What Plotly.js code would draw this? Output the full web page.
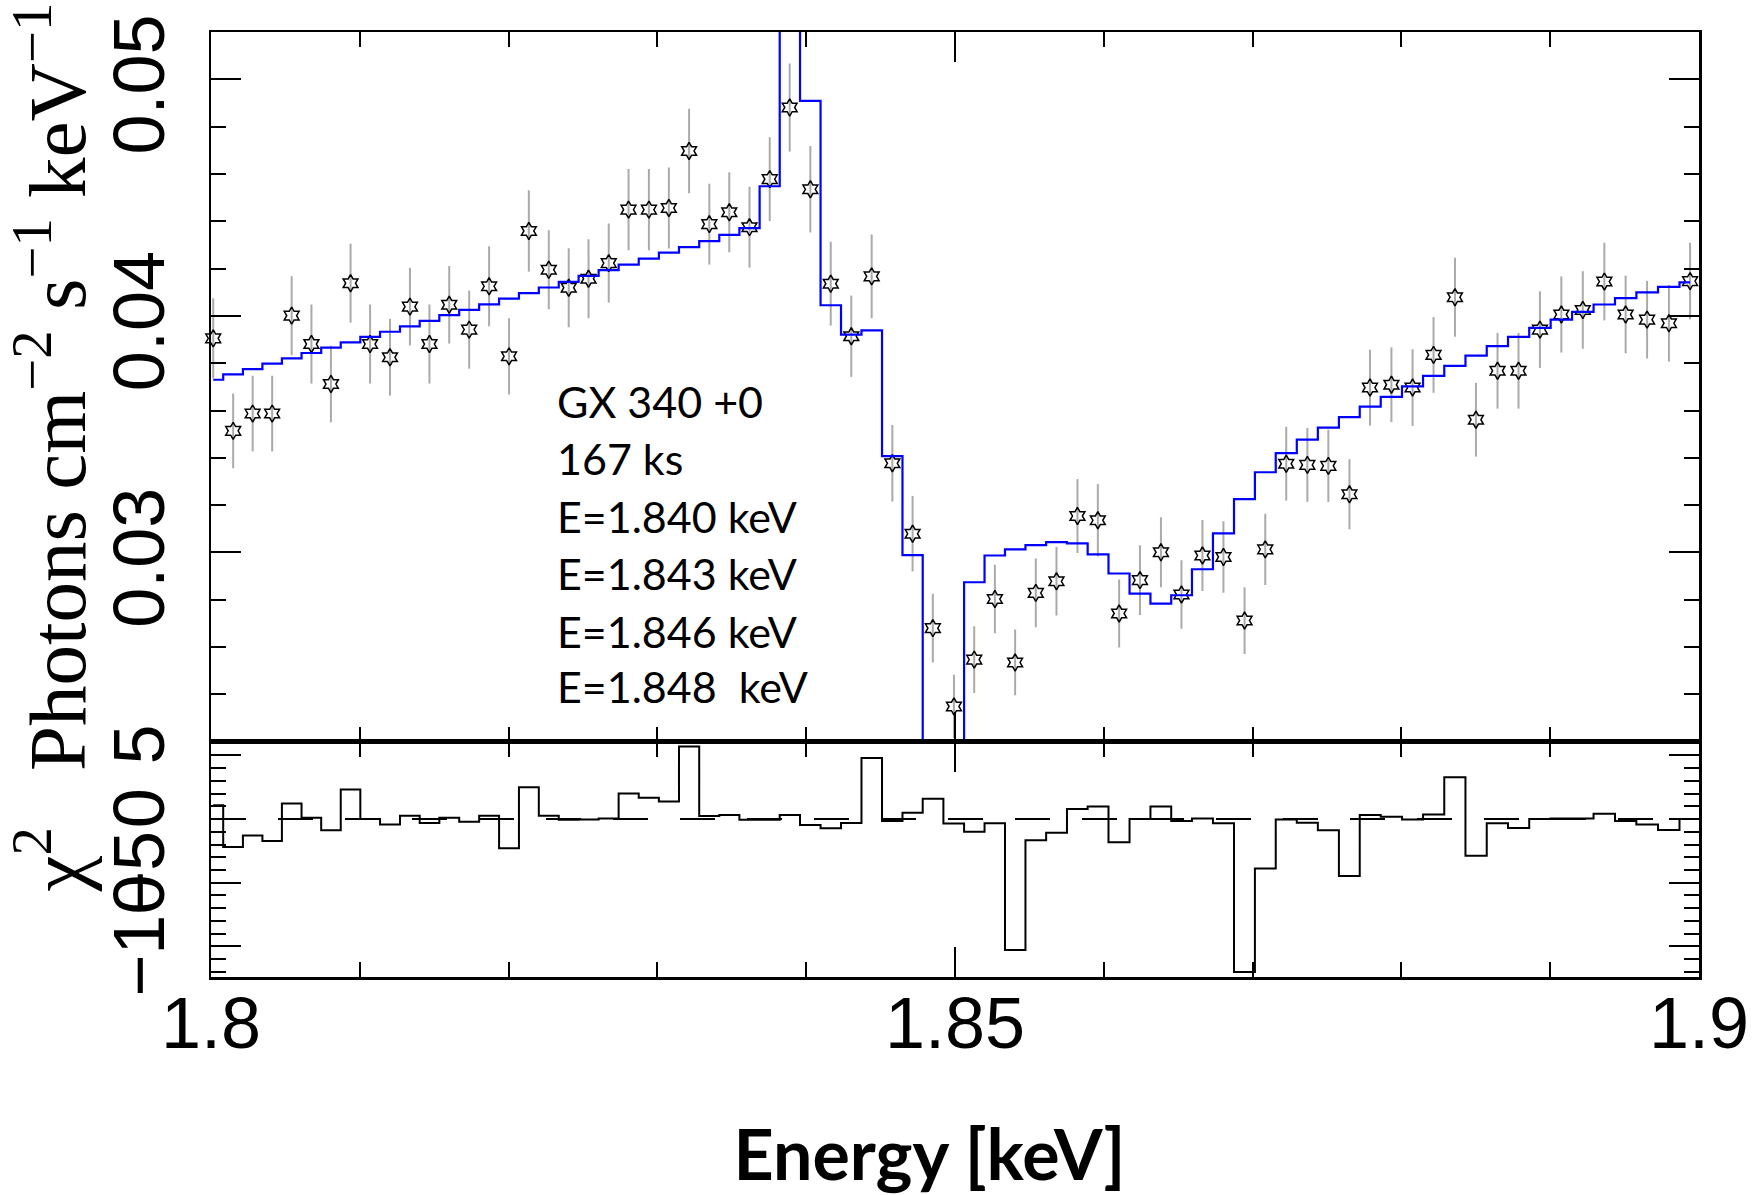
<!DOCTYPE html>
<html>
<head>
<meta charset="utf-8">
<script src="https://cdn.plot.ly/plotly-3.0.1.min.js"></script>
<style>
  html, body { margin: 0; padding: 0; background: #ffffff; }
  #chart { width: 1752px; height: 1195px; }
</style>
</head>
<body>
<div id="chart"></div>
<script>
// Bin centres (keV)
const energy = [1.80015, 1.80149, 1.80280, 1.80411, 1.80542, 1.80675, 1.80806, 1.80938, 1.81069, 1.81203,
  1.81337, 1.81468, 1.81601, 1.81735, 1.81869, 1.82003, 1.82136, 1.82270, 1.82404, 1.82537,
  1.82673, 1.82806, 1.82943, 1.83077, 1.83213, 1.83349, 1.83483, 1.83619, 1.83755, 1.83889,
  1.84028, 1.84165, 1.84303, 1.84440, 1.84579, 1.84715, 1.84851, 1.84993, 1.85129, 1.85268,
  1.85404, 1.85543, 1.85682, 1.85823, 1.85960, 1.86103, 1.86243, 1.86384, 1.86522, 1.86663,
  1.86804, 1.86946, 1.87085, 1.87226, 1.87368, 1.87509, 1.87651, 1.87789, 1.87933, 1.88075,
  1.88216, 1.88360, 1.88501, 1.88646, 1.88787, 1.88931, 1.89075, 1.89219, 1.89364, 1.89507,
  1.89651, 1.89798, 1.89940];

// Observed flux (Photons cm^-2 s^-1 keV^-1)
const flux = [0.03905, 0.03514, 0.03587, 0.03587, 0.04001, 0.03881, 0.03712, 0.04138, 0.03881, 0.03825,
  0.04039, 0.03881, 0.04047, 0.03942, 0.04125, 0.03829, 0.04359, 0.04195, 0.04119, 0.04157,
  0.04223, 0.04449, 0.04449, 0.04456, 0.04697, 0.04388, 0.04438, 0.04375, 0.04578, 0.04881,
  0.04535, 0.04136, 0.03914, 0.04167, 0.03377, 0.03079, 0.02680, 0.02349, 0.02547, 0.02803,
  0.02535, 0.02829, 0.02878, 0.03154, 0.03136, 0.02742, 0.02883, 0.03001, 0.02822, 0.02987,
  0.02981, 0.02712, 0.03013, 0.03375, 0.03370, 0.03366, 0.03246, 0.03697, 0.03709, 0.03697,
  0.03835, 0.04079, 0.03561, 0.03768, 0.03768, 0.03942, 0.04006, 0.04025, 0.04145, 0.04006,
  0.03984, 0.03969, 0.04147];

// 1-sigma errors on flux
const fluxErr = [0.00169, 0.00158, 0.00160, 0.00160, 0.00167, 0.00167, 0.00162, 0.00167, 0.00167, 0.00162,
  0.00164, 0.00167, 0.00164, 0.00165, 0.00169, 0.00161, 0.00172, 0.00167, 0.00167, 0.00167,
  0.00167, 0.00172, 0.00172, 0.00171, 0.00179, 0.00171, 0.00169, 0.00171, 0.00177, 0.00186,
  0.00183, 0.00177, 0.00172, 0.00177, 0.00162, 0.00160, 0.00145, 0.00134, 0.00141, 0.00145,
  0.00139, 0.00145, 0.00145, 0.00156, 0.00153, 0.00144, 0.00147, 0.00148, 0.00145, 0.00150,
  0.00151, 0.00141, 0.00151, 0.00156, 0.00156, 0.00153, 0.00148, 0.00160, 0.00158, 0.00162,
  0.00160, 0.00167, 0.00156, 0.00160, 0.00160, 0.00162, 0.00161, 0.00164, 0.00164, 0.00164,
  0.00164, 0.00162, 0.00162];

// Folded model (blue histogram)
const model = [0.03730, 0.03753, 0.03775, 0.03798, 0.03820, 0.03843, 0.03866, 0.03888, 0.03911, 0.03933,
  0.03956, 0.03979, 0.04003, 0.04025, 0.04049, 0.04073, 0.04096, 0.04120, 0.04144, 0.04169,
  0.04193, 0.04217, 0.04242, 0.04267, 0.04291, 0.04316, 0.04342, 0.04371, 0.04548, 0.05800,
  0.04909, 0.04045, 0.03921, 0.03939, 0.03407, 0.02989, 0.01900, 0.01900, 0.02874, 0.02987,
  0.03013, 0.03031, 0.03044, 0.03038, 0.02992, 0.02911, 0.02826, 0.02784, 0.02819, 0.02929,
  0.03081, 0.03225, 0.03339, 0.03420, 0.03477, 0.03528, 0.03572, 0.03616, 0.03658, 0.03702,
  0.03746, 0.03789, 0.03832, 0.03872, 0.03911, 0.03949, 0.03984, 0.04017, 0.04048, 0.04075,
  0.04099, 0.04123, 0.04142];

// Signed chi^2 residuals
const chi2 = [1.09, -2.19, -1.30, -1.72, 1.22, 0.10, -0.89, 2.32, 0.00, -0.42,
  0.26, -0.31, 0.10, -0.21, 0.26, -2.29, 2.50, 0.26, -0.05, -0.03,
  0.05, 2.00, 1.67, 1.38, 5.70, 0.23, 0.31, -0.05, -0.05, 0.31,
  -0.47, -0.73, -0.31, 4.79, -0.16, 0.49, 1.59, -0.36, -0.99, -0.34,
  -10.29, -1.67, -1.07, 0.78, 0.99, -1.82, 0.00, 0.99, -0.16, 0.04,
  -0.34, -12.00, -3.88, -0.03, -0.29, -0.89, -4.48, 0.31, 0.18, -0.03,
  0.36, 3.28, -2.89, -0.34, -0.70, 0.00, 0.05, 0.05, 0.42, -0.16,
  -0.42, -0.86, 0.00];

const infoLines = ["GX 340 +0", "167 ks", "E=1.840 keV", "E=1.843 keV", "E=1.846 keV", "E=1.848&nbsp; keV"];
const xTitle = "<b>Energy [keV]&nbsp;&nbsp;&nbsp;</b>";
const yTitleTop = "Photons cm<sup>\u22122</sup> s<sup>\u22121</sup> keV<sup>\u22121</sup>";
const yTitleBottom = "\u03c7<sup>2</sup>";

const tickFont = { family: "Liberation Sans, Arial, sans-serif", size: 72, color: "#000" };
const serifFont = { family: "Liberation Serif, Times New Roman, serif", size: 81, color: "#000" };

const traces = [
  {
    x: energy, y: flux, xaxis: "x", yaxis: "y",
    type: "scatter", mode: "markers", cliponaxis: false,
    marker: { symbol: "hexagram-open", size: 13, color: "#000", line: { width: 1.5, color: "#000" } },
    error_y: { type: "data", array: fluxErr, visible: true, color: "#aaaaaa", thickness: 2, width: 0 },
    showlegend: false
  },
  {
    x: energy, y: model, xaxis: "x", yaxis: "y",
    type: "scatter", mode: "lines",
    line: { shape: "hvh", color: "#0000ff", width: 2.2 },
    showlegend: false
  },
  {
    x: energy, y: chi2, xaxis: "x2", yaxis: "y2",
    type: "scatter", mode: "lines",
    line: { shape: "hvh", color: "#000", width: 2 },
    showlegend: false
  }
];

const commonX = {
  range: [1.8, 1.9], tick0: 1.8, dtick: 0.05,
  ticks: "inside", ticklen: 30, tickwidth: 2, tickcolor: "#000",
  showline: true, linewidth: 2.5, linecolor: "#000", mirror: "ticks",
  showgrid: false, zeroline: false, ticklabeloverflow: "allow",
  minor: { dtick: 0.01, tick0: 1.8, ticks: "inside", ticklen: 15, tickwidth: 2, tickcolor: "#000", showgrid: false }
};

const splitY = 0.249;
const annotations = [];
const lineCentres = [0.6085, 0.5492, 0.4878, 0.4275, 0.3661, 0.3069];
infoLines.forEach((t, i) => {
  annotations.push({
    xref: "paper", yref: "paper", x: 0.2312, y: lineCentres[i],
    xanchor: "left", yanchor: "middle", showarrow: false, align: "left",
    text: t, font: { family: "Lato, Open Sans, sans-serif", size: 43, color: "#000" }
  });
});

const layout = {
  width: 1752, height: 1195,
  margin: { l: 211, r: 53, t: 32, b: 218 },
  paper_bgcolor: "#ffffff", plot_bgcolor: "#ffffff",
  showlegend: false,
  xaxis: Object.assign({}, commonX, { anchor: "y", domain: [0, 1], showticklabels: false, matches: "x2" }),
  xaxis2: Object.assign({}, commonX, {
    anchor: "y2", domain: [0, 1], showticklabels: true, tickfont: tickFont, ticklabelstandoff: -18,
    title: { text: xTitle, font: { family: "Lato, Open Sans, sans-serif", size: 70, color: "#000" }, standoff: 76 }
  }),
  yaxis: {
    anchor: "x", domain: [splitY, 1], range: [0.022, 0.052], tick0: 0, dtick: 0.01,
    ticks: "inside", ticklen: 30, tickwidth: 2, tickcolor: "#000", tickangle: -90, tickfont: tickFont,
    ticklabelstandoff: 16, ticklabelshift: 16, ticklabeloverflow: "allow",
    showline: true, linewidth: 2.5, linecolor: "#000", mirror: "ticks",
    showgrid: false, zeroline: false,
    minor: { dtick: 0.002, tick0: 0, ticks: "inside", ticklen: 15, tickwidth: 2, tickcolor: "#000", showgrid: false },
    title: { text: yTitleTop, font: serifFont, standoff: 0 }
  },
  yaxis2: {
    anchor: "x2", domain: [0, splitY], range: [-12.4, 6.07], tick0: 0, dtick: 5,
    ticks: "inside", ticklen: 30, tickwidth: 2, tickcolor: "#000", tickangle: -90, tickfont: tickFont,
    ticklabelstandoff: 16, ticklabeloverflow: "allow",
    showline: true, linewidth: 2.5, linecolor: "#000", mirror: "ticks",
    showgrid: false, zeroline: false,
    minor: { dtick: 1, tick0: 0, ticks: "inside", ticklen: 15, tickwidth: 2, tickcolor: "#000", showgrid: false },
    title: { text: yTitleBottom, font: serifFont, standoff: 0 }
  },
  shapes: [
    { type: "line", xref: "x2", yref: "y2", x0: 1.8, x1: 1.9, y0: 0, y1: 0,
      line: { color: "#000", width: 2, dash: "35px,32px" }, layer: "below" }
  ],
  annotations: annotations
};

Plotly.newPlot("chart", traces, layout, { displayModeBar: false, staticPlot: true });
</script>
</body>
</html>
